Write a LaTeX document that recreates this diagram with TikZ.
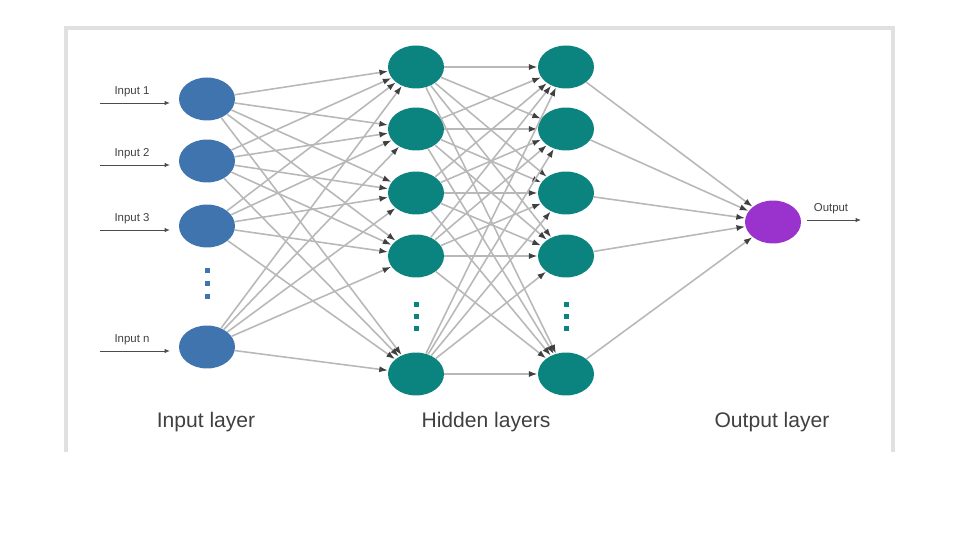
\documentclass[tikz,border=0pt]{standalone}
\usepackage{fontspec}
\setmainfont{Liberation Sans}
\usepackage{tikz}
\usetikzlibrary{arrows.meta}
\usetikzlibrary{shapes.geometric}
\definecolor{inblue}{HTML}{3F74AE}
\definecolor{hidteal}{HTML}{0B847F}
\definecolor{outpurple}{HTML}{9A32CD}
\tikzset{>=latex}
\tikzstyle{neuron} = [ellipse, draw=none, minimum width=1.12cm, minimum height=0.86cm, inner sep=0]
\tikzstyle{dotbox} = [rectangle, draw=none, minimum size=0.1cm, inner sep=0]
\tikzstyle{link} = [-{Latex[length=5pt, width=3.5pt, color=black!75]}, draw=black!28, line width=0.9pt]
\tikzstyle{feed} = [-{Latex[length=3pt, width=2.5pt]}, draw=black!70, line width=0.5pt]
\tikzstyle{iolab} = [draw=none, inner sep=1, text=black!75, font=\fontsize{6.5}{7}\selectfont]
\tikzstyle{laylab} = [draw=none, text=black!75, font=\fontsize{12}{14}\selectfont]
\tikzstyle{frame} = [draw=black!12, line width=2pt]

\begin{document}
\begin{tikzpicture}[x=0.02cm, y=-0.02cm]
\useasboundingbox (0,0) rectangle (960,540);
\draw [frame] (66,452) -- (66,28) -- (893,28) -- (893,452);

% input layer
\node [neuron, fill=inblue] (X1) at (207,99) {};
\node [neuron, fill=inblue] (X2) at (207,161) {};
\node [neuron, fill=inblue] (X3) at (207,226) {};
\node [neuron, fill=inblue] (Xn) at (207,347) {};
\node [dotbox, fill=inblue] (xd1) at (207,271) {};
\node [dotbox, fill=inblue] (xd2) at (207,284) {};
\node [dotbox, fill=inblue] (xd3) at (207,297) {};

% hidden layers
\foreach \j/\y in {1/67,2/129,3/193,4/256,5/374} {
  \node [neuron, fill=hidteal] (A\j) at (416,\y) {};
  \node [neuron, fill=hidteal] (B\j) at (566,\y) {};
}
\node [dotbox, fill=hidteal] (ad1) at (416,305) {};
\node [dotbox, fill=hidteal] (ad2) at (416,317) {};
\node [dotbox, fill=hidteal] (ad3) at (416,329) {};
\node [dotbox, fill=hidteal] (bd1) at (566,305) {};
\node [dotbox, fill=hidteal] (bd2) at (566,317) {};
\node [dotbox, fill=hidteal] (bd3) at (566,329) {};

% output layer
\node [neuron, fill=outpurple] (Y) at (773,222) {};

% connections
\foreach \i in {1,2,3,n}
  \foreach \j in {1,...,5}
    \draw [link] (X\i) to (A\j);
\foreach \i in {1,...,5}
  \foreach \j in {1,...,5}
    \draw [link] (A\i) to (B\j);
\foreach \i in {1,...,5}
  \draw [link] (B\i) to (Y);

% inputs and output
\foreach \i/\y in {1/103,2/165,3/230,n/351} {
  \coordinate (x\i in) at (100,\y);
  \draw [feed, shorten >=5pt] (x\i in) to (X\i.west |- x\i in);
  \node [iolab] (x\i lab) at (132,\y-11) {Input \i};
}
\coordinate (yout) at (861,220);
\draw [feed, shorten <=3pt] (Y.east |- yout) to (yout);
\node [iolab] (ylab) at (831,209) {Output};

% layer names
\node [laylab] (inlay) at (206,422) {Input layer};
\node [laylab] (hidlay) at (486,422) {Hidden layers};
\node [laylab] (outlay) at (772,422) {Output layer};
\end{tikzpicture}
\end{document}
